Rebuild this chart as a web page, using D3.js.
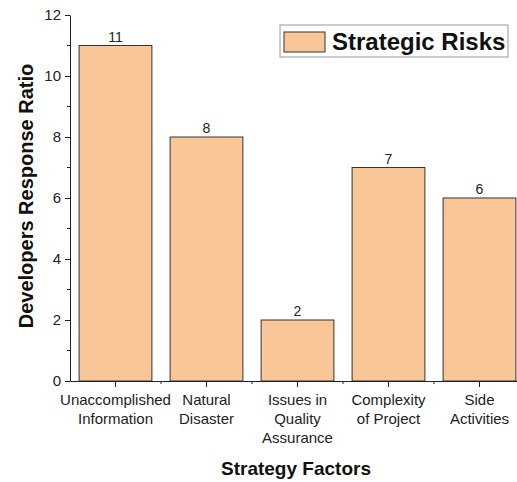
<!DOCTYPE html>
<html>
<head>
<meta charset="utf-8">
<script src="https://cdn.jsdelivr.net/npm/d3@7"></script>
<style>
  body { margin: 0; background: #fff; }
  text { font-family: "Liberation Sans", Arial, sans-serif; }
</style>
</head>
<body>
<div id="viz"></div>
<script>
const width = 517,
    height = 482;

// data
const categories = ["Unaccomplished\nInformation", "Natural\nDisaster", "Issues in\nQuality\nAssurance", "Complexity\nof Project", "Side\nActivities"];
const values = [11, 8, 2, 7, 6];
const seriesName = "Strategic Risks";
const yTicks = [0, 2, 4, 6, 8, 10, 12];

const margin = { left: 70, top: 15, bottom: 101 };
const barColor = "#f9c797";

const svg = d3.select("#viz").append("svg")
    .attr("width", width)
    .attr("height", height);

const x = d3.scaleBand()
    .domain(categories)
    .range([margin.left, margin.left + 91 * categories.length])
    .paddingInner(0.2)
    .paddingOuter(0.1);

const y = d3.scaleLinear()
    .domain([0, 12])
    .range([height - margin.bottom, margin.top]);

// bars
svg.selectAll(".bar")
    .data(values)
    .enter().append("rect")
    .attr("class", "bar")
    .attr("x", (d, i) => x(categories[i]))
    .attr("y", d => y(d))
    .attr("width", x.bandwidth())
    .attr("height", d => y(0) - y(d))
    .attr("fill", barColor)
    .attr("stroke", "#333")
    .attr("stroke-width", 1);

// value labels
svg.selectAll(".val")
    .data(values)
    .enter().append("text")
    .attr("x", (d, i) => x(categories[i]) + x.bandwidth() / 2)
    .attr("y", d => y(d) - 4)
    .attr("text-anchor", "middle")
    .attr("font-size", 14)
    .attr("fill", "#222")
    .text(d => d);

// y axis
const yAxis = svg.append("g")
    .attr("transform", "translate(" + margin.left + ",0)")
    .call(d3.axisLeft(y).tickValues(yTicks).tickSize(5).tickSizeOuter(0));
yAxis.selectAll("text").attr("font-size", 15).attr("fill", "#222").attr("x", -9);
yAxis.select(".domain").attr("stroke", "#222");
yAxis.selectAll(".tick line").attr("stroke", "#222");

// minor y ticks
svg.selectAll(".yminor")
    .data(d3.range(1, 12, 2))
    .enter().append("line")
    .attr("x1", margin.left - 3)
    .attr("x2", margin.left)
    .attr("y1", d => y(d))
    .attr("y2", d => y(d))
    .attr("stroke", "#222");

// x axis
const xAxis = svg.append("g")
    .attr("transform", "translate(0," + y(0) + ")")
    .call(d3.axisBottom(x).tickSize(6).tickSizeOuter(0).tickFormat(""));
xAxis.select(".domain").attr("stroke", "#222");
xAxis.selectAll(".tick line").attr("stroke", "#222");

// minor x ticks at band edges
svg.selectAll(".xminor")
    .data(categories.slice(1))
    .enter().append("line")
    .attr("x1", d => x(d) - x.step() * x.paddingInner() / 2)
    .attr("x2", d => x(d) - x.step() * x.paddingInner() / 2)
    .attr("y1", y(0))
    .attr("y2", y(0) + 3)
    .attr("stroke", "#222");

// category labels
svg.selectAll(".cat")
    .data(categories)
    .enter().append("text")
    .attr("text-anchor", "middle")
    .attr("font-size", 15)
    .attr("fill", "#222")
    .attr("transform", d => "translate(" + (x(d) + x.bandwidth() / 2) + "," + (y(0) + 24) + ")")
    .selectAll("tspan")
    .data(d => d.split("\n"))
    .enter().append("tspan")
    .attr("x", 0)
    .attr("dy", (d, i) => i === 0 ? 0 : 19)
    .text(d => d);

// axis titles
svg.append("text")
    .attr("x", 296)
    .attr("y", 475)
    .attr("text-anchor", "middle")
    .attr("font-size", 19)
    .attr("font-weight", "bold")
    .attr("fill", "#111")
    .text("Strategy Factors");

svg.append("text")
    .attr("transform", "translate(33,196) rotate(-90)")
    .attr("text-anchor", "middle")
    .attr("font-size", 20)
    .attr("font-weight", "bold")
    .attr("fill", "#111")
    .text("Developers Response Ratio");

// legend
const legend = svg.append("g").attr("transform", "translate(280,25)");
legend.append("rect")
    .attr("width", 228)
    .attr("height", 32)
    .attr("fill", "#fff")
    .attr("stroke", "#999");
legend.append("rect")
    .attr("x", 4)
    .attr("y", 7)
    .attr("width", 41)
    .attr("height", 20)
    .attr("fill", barColor)
    .attr("stroke", "#333");
legend.append("text")
    .attr("x", 52)
    .attr("y", 25)
    .attr("font-size", 24)
    .attr("font-weight", "bold")
    .attr("fill", "#111")
    .text(seriesName);
</script>
</body>
</html>
